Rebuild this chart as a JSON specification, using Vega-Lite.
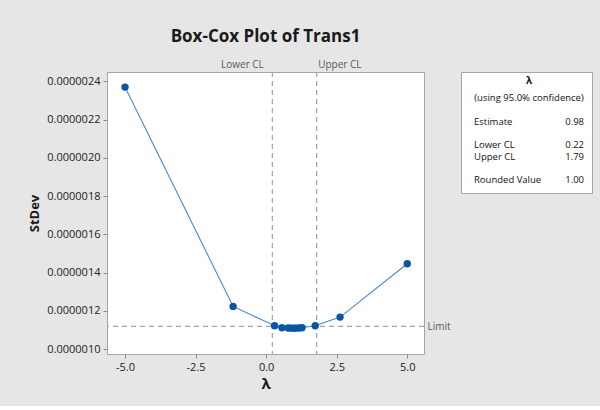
{
  "$schema": "https://vega.github.io/schema/vega-lite/v6.json",
  "background": "#e6e6e6",
  "padding": {"left": 28, "top": 27, "right": 7, "bottom": 14},
  "bounds": "flush",
  "spacing": 37,
  "config": {
    "font": "Open Sans",
    "view": {"fill": "white", "stroke": "#a6a6a6"},
    "axis": {
      "labelFont": "Open Sans",
      "labelFontSize": 11,
      "labelColor": "#222222",
      "tickColor": "#8a8a8a",
      "tickSize": 4,
      "domain": false,
      "grid": false,
      "labelFlush": false,
      "titleFont": "Open Sans",
      "titleFontWeight": "bold",
      "titleColor": "#1a1a1a"
    }
  },
  "hconcat": [
    {
      "width": 317,
      "height": 282,
      "title": {
        "text": "Box-Cox Plot of Trans1",
        "fontSize": 17,
        "fontWeight": "bold",
        "anchor": "middle",
        "frame": "group",
        "offset": 13,
        "color": "#1a1a1a"
      },
      "resolve": {"axis": {"x": "independent", "y": "independent"}},
      "data": {
        "values": [
          {"lambda": -5.0, "stdev": 2.370e-6},
          {"lambda": -1.17, "stdev": 1.223e-6},
          {"lambda": 0.30, "stdev": 1.122e-6},
          {"lambda": 0.56, "stdev": 1.111e-6},
          {"lambda": 0.78, "stdev": 1.110e-6},
          {"lambda": 0.88, "stdev": 1.1095e-6},
          {"lambda": 0.98, "stdev": 1.109e-6},
          {"lambda": 1.06, "stdev": 1.1095e-6},
          {"lambda": 1.16, "stdev": 1.110e-6},
          {"lambda": 1.27, "stdev": 1.111e-6},
          {"lambda": 1.74, "stdev": 1.122e-6},
          {"lambda": 2.62, "stdev": 1.167e-6},
          {"lambda": 5.0, "stdev": 1.446e-6}
        ]
      },
      "layer": [
        {
          "data": {"values": [{"cl": 0.22, "name": "Lower CL"}, {"cl": 1.79, "name": "Upper CL"}]},
          "mark": {"type": "rule", "color": "#a3a3a3", "strokeDash": [5, 4], "strokeWidth": 1.2},
          "encoding": {
            "x": {
              "field": "cl",
              "type": "quantitative",
              "scale": {"domain": [-5.638, 5.593], "nice": false, "zero": false},
              "axis": {
                "orient": "top",
                "title": null,
                "values": [0.22, 1.79],
                "labelExpr": "datum.value < 1 ? 'Lower CL' : 'Upper CL'",
                "ticks": false,
                "labelFontSize": 10,
                "labelColor": "#5a5a5a",
                "labelPadding": 3,
                "labelAlign": {"condition": {"test": "datum.value < 1", "value": "right"}, "value": "left"},
                "labelOffset": {"condition": {"test": "datum.value < 1", "value": -9}, "value": 1}
              }
            }
          }
        },
        {
          "data": {"values": [{"limit": 1.119e-6}]},
          "mark": {"type": "rule", "color": "#a3a3a3", "strokeDash": [5, 4], "strokeWidth": 1.2},
          "encoding": {
            "y": {
              "field": "limit",
              "type": "quantitative",
              "axis": {
                "orient": "right",
                "title": null,
                "values": [1.119e-6],
                "labelExpr": "'Limit'",
                "ticks": false,
                "labelFontSize": 10,
                "labelColor": "#5a5a5a",
                "labelPadding": 3
              }
            }
          }
        },
        {
          "mark": {"type": "line", "color": "#4a88cc", "strokeWidth": 1.1},
          "encoding": {
            "x": {
              "field": "lambda",
              "type": "quantitative",
              "axis": {
                "title": "λ",
                "values": [-5, -2.5, 0, 2.5, 5],
                "labelExpr": "replace(format(datum.value, '.1f'), '\u2212', '-')",
                "titleFontSize": 15,
                "titlePadding": 4,
                "labelPadding": 3
              }
            },
            "y": {
              "field": "stdev",
              "type": "quantitative",
              "scale": {"domain": [0.974e-6, 2.449e-6], "nice": false, "zero": false},
              "axis": {
                "title": "StDev",
                "values": [1.0e-6, 1.2e-6, 1.4e-6, 1.6e-6, 1.8e-6, 2.0e-6, 2.2e-6, 2.4e-6],
                "format": ".7f",
                "titleFontSize": 13,
                "titlePadding": 5,
                "labelPadding": 3
              }
            }
          }
        },
        {
          "mark": {"type": "point", "filled": true, "color": "#0b56a4", "size": 55, "opacity": 1},
          "encoding": {
            "x": {"field": "lambda", "type": "quantitative", "axis": null},
            "y": {"field": "stdev", "type": "quantitative", "axis": null}
          }
        }
      ]
    },
    {
      "width": 131,
      "height": 121,
      "data": {
        "values": [
          {"row": "λ", "col": "center", "text": "λ"},
          {"row": "conf", "col": "center", "text": "(using 95.0% confidence)"},
          {"row": "Estimate", "col": "label", "text": "Estimate"},
          {"row": "Estimate", "col": "value", "text": "0.98"},
          {"row": "Lower CL", "col": "label", "text": "Lower CL"},
          {"row": "Lower CL", "col": "value", "text": "0.22"},
          {"row": "Upper CL", "col": "label", "text": "Upper CL"},
          {"row": "Upper CL", "col": "value", "text": "1.79"},
          {"row": "Rounded Value", "col": "label", "text": "Rounded Value"},
          {"row": "Rounded Value", "col": "value", "text": "1.00"}
        ]
      },
      "encoding": {
        "y": {
          "field": "row",
          "type": "ordinal",
          "scale": {
            "type": "point",
            "domain": ["λ", "s1", "s2", "conf", "s3", "s4", "s5", "Estimate", "s6", "s7", "s8", "Lower CL", "s9", "Upper CL", "s10", "s11", "s12", "Rounded Value"],
            "range": [9, 108],
            "padding": 0
          },
          "axis": null
        },
        "x": {
          "field": "col",
          "type": "nominal",
          "scale": {"type": "point", "domain": ["label", "center", "value"], "range": [13, 123], "padding": 0},
          "axis": null
        },
        "text": {"field": "text", "type": "nominal"}
      },
      "layer": [
        {
          "transform": [{"filter": "datum.row == 'λ'"}],
          "mark": {"type": "text", "align": "center", "fontSize": 10, "fontWeight": "bold", "color": "#111111"}
        },
        {
          "transform": [{"filter": "datum.row == 'conf'"}],
          "mark": {"type": "text", "align": "center", "fontSize": 9.5, "color": "#111111"}
        },
        {
          "transform": [{"filter": "datum.col == 'label'"}],
          "mark": {"type": "text", "align": "left", "fontSize": 9.5, "color": "#111111"}
        },
        {
          "transform": [{"filter": "datum.col == 'value'"}],
          "mark": {"type": "text", "align": "right", "fontSize": 9.5, "color": "#111111"}
        }
      ]
    }
  ]
}
